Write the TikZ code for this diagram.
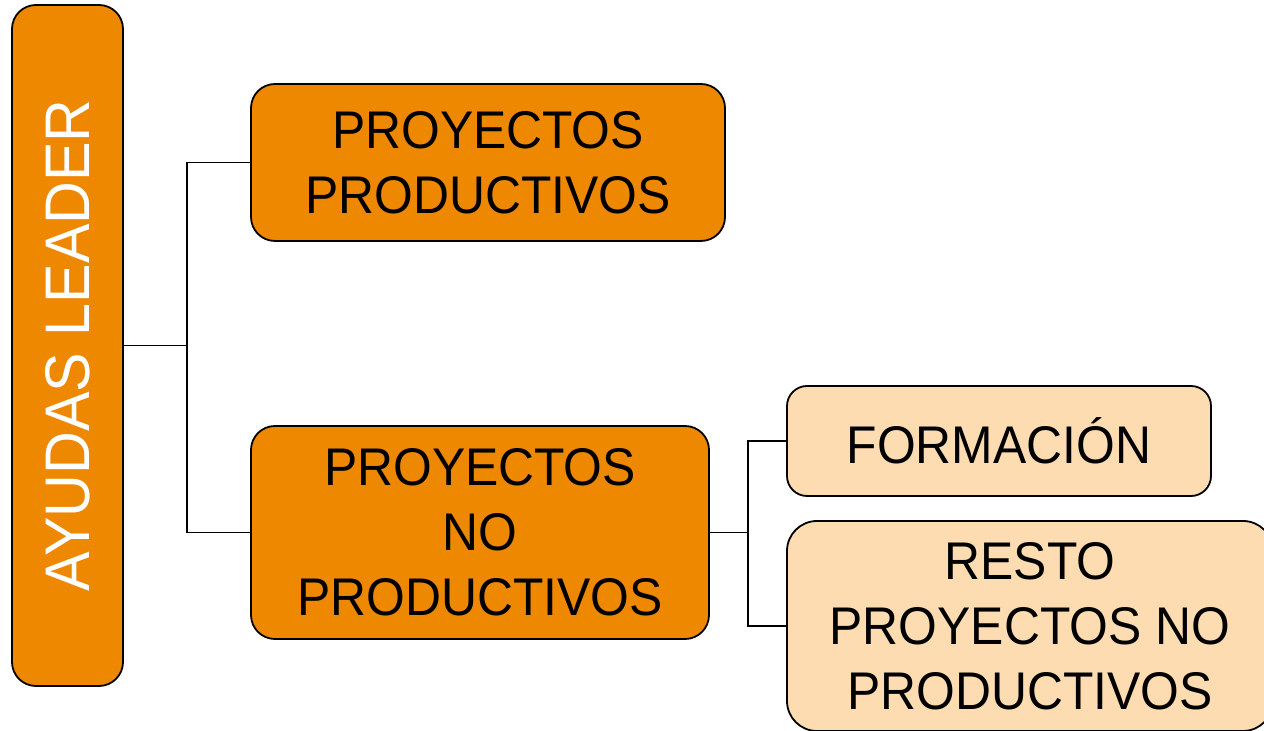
\documentclass[tikz,border=0pt]{standalone}
\usepackage{fontspec}
\setmainfont[FakeStretch=0.94]{Liberation Sans}
\definecolor{leaderorange}{HTML}{EE8800}
\definecolor{leaderpeach}{HTML}{FDDCB1}

\begin{document}
\begin{tikzpicture}[x=0.5pt, y=-0.5pt,
    box/.style={draw=black, line width=0.9pt, rounded corners=12pt, align=center, inner sep=0pt,
      font=\fontsize{26.5}{32.5}\selectfont},
    dark/.style={box, fill=leaderorange},
    light/.style={box, fill=leaderpeach, rounded corners=10pt},
    link/.style={draw=black, line width=0.9pt}]
    \useasboundingbox (0,0) rectangle (1264,731);

    % main column
    \node[dark, rotate=90, minimum width=340.5pt, minimum height=55.5pt, text=white,
      font=\fontsize{31.5}{36}\selectfont] (leader) at (67.5,345.5) {AYUDAS LEADER};

    % first level
    \node[dark, minimum width=237pt, minimum height=78.5pt] (prod) at (488,162.5) {PROYECTOS\\PRODUCTIVOS};
    \node[dark, minimum width=229pt, minimum height=106.5pt] (noprod) at (480,532.5) {PROYECTOS\\NO\\PRODUCTIVOS};

    % second level
    \node[light, minimum width=212pt, minimum height=55pt] (form) at (999,441) {FORMACIÓN};
    \node[light, rounded corners=15pt, minimum width=243pt, minimum height=105pt] (resto) at (1030,626) {RESTO\\PROYECTOS NO\\PRODUCTIVOS};

    \coordinate (split1) at (187,345.5);
    \coordinate (split2) at (748,532.5);

    \draw[link] (leader.south) -- (split1) |- (prod.west);
    \draw[link] (split1) |- (noprod.west);
    \draw[link] (noprod.east) -- (split2) |- (form.west);
    \draw[link] (split2) |- (resto.west);
  \end{tikzpicture}
\end{document}
